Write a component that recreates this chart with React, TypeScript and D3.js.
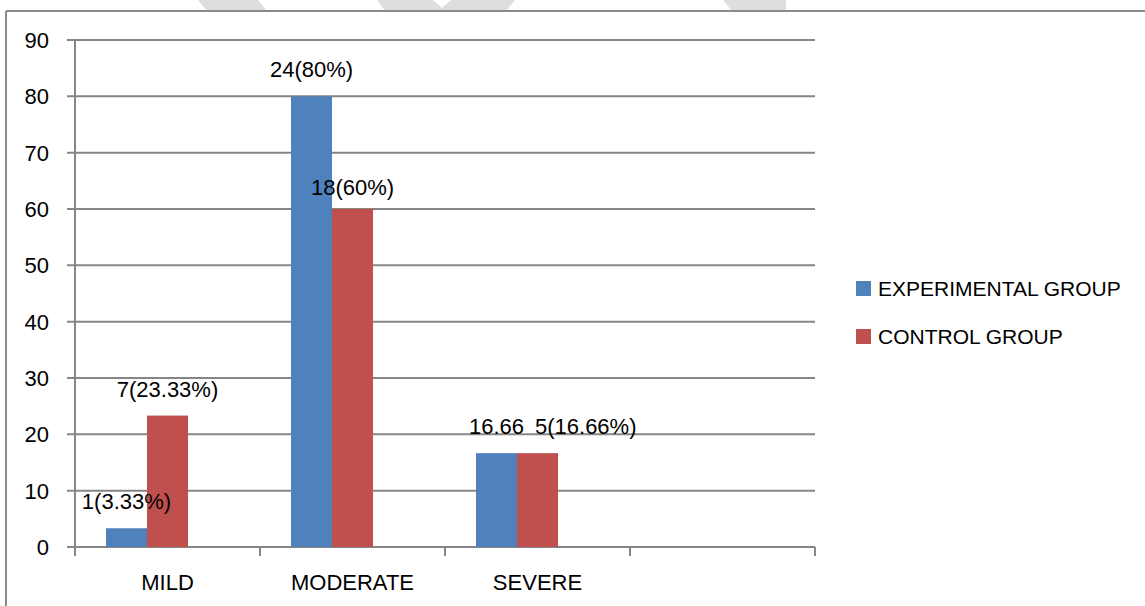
import React from "react";
import * as d3 from "d3";

const categories = ["MILD", "MODERATE", "SEVERE", ""];
const seriesNames = ["EXPERIMENTAL GROUP", "CONTROL GROUP", ""];
const experimentalValues = [3.33, 80, 16.66];
const controlValues = [23.33, 60, 16.66];
const experimentalLabels = ["1(3.33%)", "24(80%)", "16.66"];
const controlLabels = ["7(23.33%)", "18(60%)", "5(16.66%)"];
const yTicks = [0, 10, 20, 30, 40, 50, 60, 70, 80, 90];

const colors = ["#4F81BD", "#C0504D"];
const FONT = "'Liberation Sans', Arial, sans-serif";
const FS = 22;
const LFS = 21;

export default function App() {
  const W = 1145, H = 606;
  const left = 75, right = 815, top = 40, bottom = 547;
  const x = d3.scaleBand<string>().domain(categories.map((c, i) => String(i))).range([left, right]).paddingInner(0).paddingOuter(0);
  const xs = d3.scaleBand<string>().domain(["0", "1", "2"]).range([0, x.bandwidth()]).paddingInner(0).paddingOuter(0.756);
  const y = d3.scaleLinear().domain([0, 90]).range([bottom, top]);
  const series = [experimentalValues, controlValues];
  const labels = [experimentalLabels, controlLabels];
  // label placement tweaks (style): [series-cat] -> [dx, dy, mode]
  const labelTweak: Record<string, [number, number, string]> = {
    "1-1": [0, 5, "middle"],
    "1-2": [18, 0, "start"],
  };
  const ticksX = d3.range(categories.length + 1).map((i) => left + i * x.bandwidth());

  return (
    <svg width={W} height={H} style={{ position: "absolute", left: 0, top: 0, background: "#fff" }} fontFamily={FONT}>
      {/* watermark fragments */}
      <g fill="#dedede">
        <polygon points="198,0 258,0 267,11 207,11" />
        <polygon points="377,0 515,0 506,11 385,11 377,0" />
        <polygon points="433,0 451,0 442,8" fill="#fff" />
        <path d="M723,0 L786,0 L786,8 Q786,11 782,11 L732,11 Z" />
      </g>
      {/* outer frame */}
      <line x1={6} x2={W} y1={11} y2={11} stroke="#8a8a8a" strokeWidth={2} />
      <line x1={6} x2={6} y1={11} y2={H} stroke="#8a8a8a" strokeWidth={2} />
      {/* gridlines */}
      {yTicks.map((t) => (
        <g key={t}>
          <line x1={left - 8} x2={right} y1={y(t)} y2={y(t)} stroke="#868686" strokeWidth={2} />
          <text x={49} y={y(t)} dy="0.36em" textAnchor="end" fontSize={FS} fill="#000">{t}</text>
        </g>
      ))}
      {/* y axis */}
      <line x1={left} x2={left} y1={top} y2={bottom + 8} stroke="#868686" strokeWidth={2} />
      {/* x ticks */}
      {ticksX.map((tx, i) => (
        <line key={i} x1={tx} x2={tx} y1={bottom} y2={bottom + 9} stroke="#868686" strokeWidth={2} />
      ))}
      {/* bars */}
      {series.map((vals, si) =>
        vals.map((v, ci) => {
          const bx = (x(String(ci)) as number) + (xs(String(si)) as number);
          return (
            <rect key={`${si}-${ci}`} x={bx} y={y(v)} width={xs.bandwidth()} height={y(0) - y(v)} fill={colors[si]} />
          );
        })
      )}
      {/* data labels */}
      {series.map((vals, si) =>
        vals.map((v, ci) => {
          const bx = (x(String(ci)) as number) + (xs(String(si)) as number);
          const tw = labelTweak[`${si}-${ci}`];
          let tx = bx + xs.bandwidth() / 2;
          let anchor = "middle";
          if (tw && tw[2] === "start") { tx = bx + tw[0]; anchor = "start"; }
          else if (tw) tx += tw[0];
          const ty = y(v) - 19 + (tw ? tw[1] : 0);
          return (
            <text key={`l${si}-${ci}`} x={tx} y={ty} textAnchor={anchor} fontSize={FS} fill="#000">{labels[si][ci]}</text>
          );
        })
      )}
      {/* category labels */}
      {categories.map((c, i) => (
        <text key={i} x={(x(String(i)) as number) + x.bandwidth() / 2} y={590} textAnchor="middle" fontSize={FS} fill="#000">{c}</text>
      ))}
      {/* legend */}
      {seriesNames.slice(0, 2).map((n, i) => (
        <g key={n} transform={`translate(856, ${281 + i * 48})`}>
          <rect x={0} y={0} width={15} height={15} fill={colors[i]} />
          <text x={22} y={15} fontSize={LFS} fill="#000">{n}</text>
        </g>
      ))}
    </svg>
  );
}
